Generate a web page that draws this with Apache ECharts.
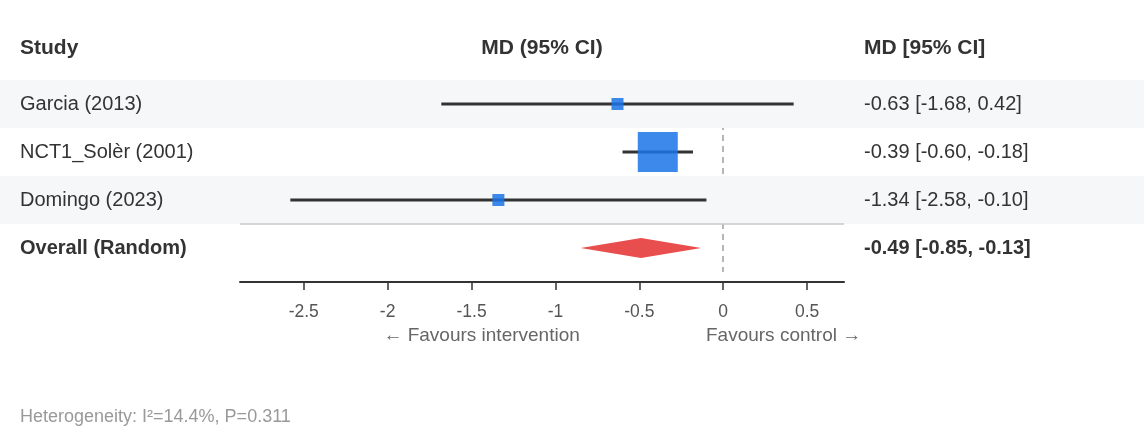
<!DOCTYPE html>
<html><head><meta charset="utf-8">
<script src="https://cdn.jsdelivr.net/npm/echarts@6/dist/echarts.min.js"></script>
<style>html,body{margin:0;padding:0;background:#fff}#c{width:1144px;height:440px}</style>
</head><body><div id="c"></div>
<script>
const studies = ['Garcia (2013)', 'NCT1_Solèr (2001)', 'Domingo (2023)'];
const estimates = [-0.63, -0.39, -1.34];
const lowerCI = [-1.68, -0.60, -2.58];
const upperCI = [0.42, -0.18, -0.10];
const weights = [3.7, 93.6, 2.7];
const pooledLabel = 'Overall (Random)';
const pooledEst = -0.49;
const pooledLower = -0.85;
const pooledUpper = -0.13;
const xTicks = [-2.5, -2, -1.5, -1, -0.5, 0, 0.5];
const heterogeneityI2 = 14.4;
const heterogeneityP = 0.311;
const headers = ['Study', 'MD (95% CI)', 'MD [95% CI]'];
const favours = ['← Favours intervention', 'Favours control →'];

const FONT = "Arial, 'Liberation Sans', Helvetica, sans-serif";
const rows = studies.concat([pooledLabel]);
const fmt = v => v.toFixed(2);
const ciText = studies.map((s, i) => `${fmt(estimates[i])} [${fmt(lowerCI[i])}, ${fmt(upperCI[i])}]`)
  .concat([`${fmt(pooledEst)} [${fmt(pooledLower)}, ${fmt(pooledUpper)}]`]);
const allLo = Math.min(...lowerCI, pooledLower);
const allHi = Math.max(...upperCI, pooledUpper);
const span = allHi - allLo;
const xMin = allLo - 0.1 * span;
const xMax = allHi + 0.1 * span;
const maxW = Math.max(...weights);
const overallIdx = rows.length - 1;

const chart = echarts.init(document.getElementById('c'), null, {renderer: 'canvas'});

const option = {
  animation: false,
  backgroundColor: '#fff',
  textStyle: {fontFamily: FONT},
  grid: {left: 240, right: 300, top: 80, bottom: 168, containLabel: false, outerBoundsMode: 'none'},
  xAxis: {
    type: 'value', min: xMin, max: xMax, offset: 10, z: 10,
    axisLine: {show: true, onZero: false, lineStyle: {color: '#333', width: 2}},
    axisTick: {show: true, customValues: xTicks, length: 8, lineStyle: {color: '#333', width: 1.5}},
    axisLabel: {customValues: xTicks, color: '#555', fontSize: 17.5, margin: 21, fontFamily: FONT,
      formatter: v => String(v)},
    splitLine: {show: false}
  },
  yAxis: [{
    type: 'category', data: rows, inverse: true, position: 'left', z: 10,
    axisLine: {show: false}, axisTick: {show: false}, splitLine: {show: false},
    axisLabel: {
      align: 'left', margin: 220, fontSize: 20, color: '#333', fontFamily: FONT,
      formatter: (v, i) => i === overallIdx ? `{b|${v}}` : v,
      rich: {b: {fontWeight: 'bold', fontSize: 20, color: '#333', fontFamily: FONT}}
    }
  }, {
    type: 'category', data: rows, inverse: true, position: 'right', z: 10,
    axisLine: {show: false}, axisTick: {show: false}, splitLine: {show: false},
    axisLabel: {
      align: 'left', margin: 20, fontSize: 20, color: '#333', fontFamily: FONT,
      formatter: (v, i) => i === overallIdx ? `{b|${ciText[i]}}` : ciText[i],
      rich: {b: {fontWeight: 'bold', fontSize: 20, color: '#333', fontFamily: FONT}}
    }
  }],
  series: [
    {
      type: 'line', data: [], z: 1, silent: true,
      markLine: {
        z: 1, silent: true, symbol: 'none', label: {show: false},
        lineStyle: {type: [6, 5], color: '#9e9e9e', width: 1.5},
        data: [{xAxis: 0}]
      }
    },
    {
      type: 'custom', z: 2, silent: true, clip: false,
      data: rows.map((r, i) => [0, i]).filter(d => d[1] % 2 === 0 && d[1] !== overallIdx),
      encode: {x: 0, y: 1},
      renderItem(params, api) {
        const y = api.coord([0, api.value(1)])[1];
        const h = api.size([0, 1])[1];
        return {type: 'rect', shape: {x: 0, y: y - h / 2, width: api.getWidth(), height: h},
          style: {fill: '#f6f7f9'}};
      }
    },
    {
      type: 'custom', z: 3, silent: true, clip: false,
      data: [[0, overallIdx]],
      encode: {x: 0, y: 1},
      renderItem(params, api) {
        const p0 = api.coord([xMin, api.value(1)]);
        const p1 = api.coord([xMax, api.value(1)]);
        const h = api.size([0, 1])[1];
        const y = p0[1] - h / 2;
        return {type: 'line', shape: {x1: p0[0], y1: y, x2: p1[0], y2: y},
          style: {stroke: '#c8c8c8', lineWidth: 1.5}};
      }
    },
    {
      type: 'custom', z: 4, silent: true, clip: false,
      data: studies.map((s, i) => [estimates[i], i, lowerCI[i], upperCI[i], weights[i]]),
      encode: {x: 0, y: 1},
      renderItem(params, api) {
        const c = api.coord([api.value(0), api.value(1)]);
        const l = api.coord([api.value(2), api.value(1)]);
        const r = api.coord([api.value(3), api.value(1)]);
        const size = Math.max(12, 40 * Math.sqrt(api.value(4) / maxW));
        return {type: 'group', children: [
          {type: 'line', shape: {x1: l[0], y1: c[1], x2: r[0], y2: c[1]},
            style: {stroke: '#333', lineWidth: 3}},
          {type: 'rect', shape: {x: c[0] - size / 2, y: c[1] - size / 2, width: size, height: size},
            style: {fill: '#1a73e8', opacity: 0.85}}
        ]};
      }
    },
    {
      type: 'custom', z: 4, silent: true, clip: false,
      data: [[pooledEst, overallIdx, pooledLower, pooledUpper]],
      encode: {x: 0, y: 1},
      renderItem(params, api) {
        const c = api.coord([api.value(0), api.value(1)]);
        const l = api.coord([api.value(2), api.value(1)]);
        const r = api.coord([api.value(3), api.value(1)]);
        const hh = 10;
        return {type: 'polygon', shape: {points: [[l[0], c[1]], [c[0], c[1] - hh], [r[0], c[1]], [c[0], c[1] + hh]]},
          style: {fill: '#e84e4e'}};
      }
    }
  ]
};
chart.setOption(option);

const px = v => chart.convertToPixel({xAxisIndex: 0}, v);
const gl = px(xMin), gr = px(xMax), g0 = px(0);
chart.setOption({
  graphic: [
    {type: 'text', x: 20, y: 48, style: {text: headers[0], font: `bold 21px ${FONT}`, fill: '#333', align: 'left', verticalAlign: 'middle'}},
    {type: 'text', x: (gl + gr) / 2, y: 48, style: {text: headers[1], font: `bold 21px ${FONT}`, fill: '#333', align: 'center', verticalAlign: 'middle'}},
    {type: 'text', x: gr + 20, y: 48, style: {text: headers[2], font: `bold 21px ${FONT}`, fill: '#333', align: 'left', verticalAlign: 'middle'}},
    {type: 'text', x: (gl + g0) / 2, y: 336, style: {text: favours[0], font: `19px ${FONT}`, fill: '#666', align: 'center', verticalAlign: 'middle'}},
    {type: 'text', x: (g0 + gr) / 2, y: 336, style: {text: favours[1], font: `19px ${FONT}`, fill: '#666', align: 'center', verticalAlign: 'middle'}},
    {type: 'text', x: 20, y: 417, style: {text: `Heterogeneity: I²=${heterogeneityI2}%, P=${heterogeneityP}`, font: `18px ${FONT}`, fill: '#999', align: 'left', verticalAlign: 'middle'}}
  ]
});
</script>
</body></html>
